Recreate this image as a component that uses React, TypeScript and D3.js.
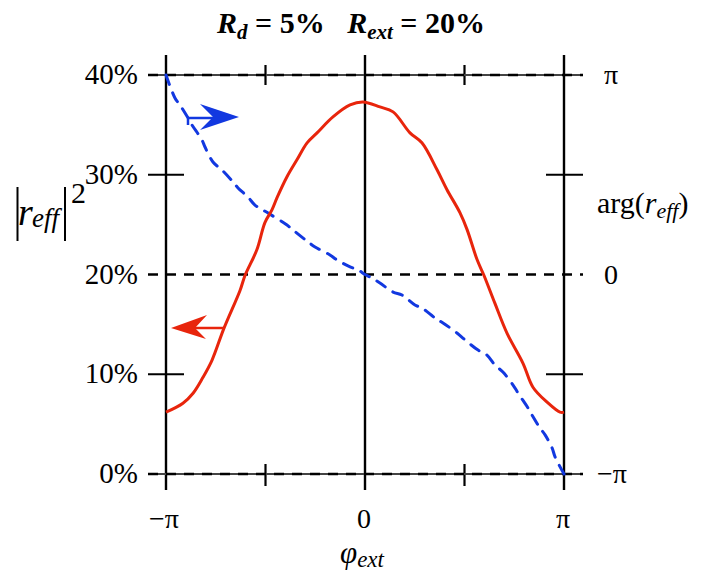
import React from "react";
import * as d3 from "d3";

// phase of the external reflector, in units of pi
const magPhi = [-1.0, -0.915, -0.864, -0.814, -0.769, -0.709, -0.628, -0.603, -0.543, -0.503, -0.467, -0.442, -0.392, -0.342, -0.291, -0.241, -0.161, -0.075, -0.01, 0.075, 0.141, 0.226, 0.286, 0.362, 0.412, 0.477, 0.513, 0.563, 0.598, 0.653, 0.714, 0.794, 0.844, 0.915, 0.98, 1.0];
// |r_eff|^2 in percent
const magVal = [6.2, 7.1, 8.1, 9.7, 11.4, 14.6, 18.4, 19.9, 22.5, 25.2, 26.5, 27.7, 29.8, 31.5, 33.2, 34.2, 35.8, 37.0, 37.3, 36.8, 36.3, 34.2, 33.2, 30.5, 28.5, 26.2, 24.5, 21.5, 19.9, 17.1, 14.1, 11.1, 8.7, 7.2, 6.2, 6.2];

// arg(r_eff) in units of pi
const argPhi = [-1.0, -0.955, -0.93, -0.889, -0.869, -0.819, -0.804, -0.764, -0.719, -0.663, -0.638, -0.588, -0.553, -0.487, -0.392, -0.362, -0.286, -0.251, -0.176, -0.141, -0.075, -0.035, 0, 0.035, 0.075, 0.141, 0.186, 0.251, 0.286, 0.352, 0.392, 0.462, 0.503, 0.568, 0.613, 0.653, 0.693, 0.744, 0.769, 0.819, 0.839, 0.879, 0.905, 0.94, 0.955, 1.0];
const argVal = [1.0, 0.885, 0.85, 0.784, 0.749, 0.674, 0.639, 0.564, 0.524, 0.464, 0.434, 0.388, 0.348, 0.308, 0.248, 0.223, 0.163, 0.138, 0.098, 0.073, 0.038, 0.023, 0, -0.018, -0.043, -0.088, -0.103, -0.153, -0.168, -0.218, -0.243, -0.293, -0.328, -0.379, -0.404, -0.454, -0.489, -0.554, -0.594, -0.669, -0.704, -0.769, -0.804, -0.869, -0.914, -1.0];

const xTicks = [-1, -0.5, 0, 0.5, 1];
const xTickLabels = ["\u2212\u03c0", "", "0", "", "\u03c0"];
const leftTicks = [0, 10, 20, 30, 40];
const rightTicks = [-1, -0.5, 0, 0.5, 1];
const rightTickLabels = ["\u2212\u03c0", "", "0", "", "\u03c0"];

const RED = "#e8250c";
const BLUE = "#1238e0";
const FONT = "'Liberation Serif', 'Times New Roman', serif";

export default function App() {
  const x = d3.scaleLinear().domain([-1, 1]).range([166, 564]);
  const yL = d3.scaleLinear().domain([0, 40]).range([474, 75]);
  const yR = d3.scaleLinear().domain([-1, 1]).range([474, 75]);

  const magLine = d3
    .line<number>()
    .curve(d3.curveCatmullRom.alpha(0.5))
    .x((_, i) => x(magPhi[i]))
    .y((d) => yL(d))(magVal);
  const argLine = d3
    .line<number>()
    .curve(d3.curveCatmullRom.alpha(0.5))
    .x((_, i) => x(argPhi[i]))
    .y((d) => yR(d))(argVal);

  return (
    <svg width={701} height={577} style={{ display: "block", position: "absolute", left: 0, top: 0 }} fontFamily={FONT}>
      <rect width={701} height={577} fill="#fff" />

      {/* vertical grid: frame edges and phi = 0, ticks at ±pi/2 */}
      {xTicks.map((t) =>
        Math.abs(t) === 0.5 ? (
          <g key={"xv" + t}>
            <line x1={x(t)} x2={x(t)} y1={65} y2={85} stroke="#000" strokeWidth={2.2} />
            <line x1={x(t)} x2={x(t)} y1={464} y2={486} stroke="#000" strokeWidth={2.2} />
          </g>
        ) : (
          <line key={"xv" + t} x1={x(t)} x2={x(t)} y1={55} y2={490} stroke="#000" strokeWidth={2.4} />
        )
      )}

      {/* horizontal grid and ticks */}
      {leftTicks.map((t) =>
        t === 10 || t === 30 ? (
          <g key={"yh" + t}>
            <line x1={148} x2={184} y1={yL(t)} y2={yL(t)} stroke="#000" strokeWidth={2.2} />
            <line x1={546} x2={583} y1={yL(t)} y2={yL(t)} stroke="#000" strokeWidth={2.2} />
          </g>
        ) : t === 20 ? (
          <line key={"yh" + t} x1={148} x2={583} y1={yL(t)} y2={yL(t)} stroke="#000" strokeWidth={2.6} strokeDasharray="10 8" />
        ) : (
          <g key={"yh" + t}>
            <line x1={148} x2={583} y1={yL(t)} y2={yL(t)} stroke="#444" strokeWidth={1.8} />
            <line x1={148} x2={583} y1={yL(t)} y2={yL(t)} stroke="#000" strokeWidth={2.6} strokeDasharray="10 8" />
          </g>
        )
      )}

      {/* left tick labels */}
      {leftTicks.map((t) => (
        <text key={"lt" + t} x={138} y={yL(t) + 9} fontSize={29} textAnchor="end">
          {t}%
        </text>
      ))}

      {/* right tick labels */}
      {rightTicks.map((t, i) =>
        rightTickLabels[i] ? (
          <text key={"rt" + t} x={t < 0 ? 597 : 604} y={yR(t) + 9} fontSize={28}>
            {rightTickLabels[i]}
          </text>
        ) : null
      )}

      {/* bottom tick labels */}
      {xTicks.map((t, i) =>
        xTickLabels[i] ? (
          <text key={"bt" + t} x={x(t) - (t < 0 ? 2 : 1)} y={528} fontSize={28} textAnchor="middle">
            {xTickLabels[i]}
          </text>
        ) : null
      )}

      {/* curves */}
      <path d={argLine ?? ""} fill="none" stroke={BLUE} strokeWidth={3} strokeDasharray="10 9" strokeLinecap="round" />
      <path d={magLine ?? ""} fill="none" stroke={RED} strokeWidth={3} strokeLinejoin="round" />

      {/* direction arrows */}
      <line x1={188} x2={215} y1={118} y2={118} stroke={BLUE} strokeWidth={2.5} />
      <path d="M188,118 L188,125" stroke={BLUE} strokeWidth={2.5} fill="none" />
      <path d="M239,117 L200,104 L213,117 L200,130 Z" fill={BLUE} />
      <line x1={195} x2={224} y1={328} y2={328} stroke={RED} strokeWidth={2.5} />
      <path d="M171,328 L207,315 L195,328 L206,339 Z" fill={RED} />

      {/* title */}
      <text x={351} y={33} fontSize={30} fontWeight="bold" textAnchor="middle" style={{ whiteSpace: "pre" }}>
        <tspan fontStyle="italic">R</tspan>
        <tspan fontStyle="italic" fontSize={21} dy={6}>d</tspan>
        <tspan dy={-6}>{" = 5%   "}</tspan>
        <tspan fontStyle="italic">R</tspan>
        <tspan fontStyle="italic" fontSize={21} dy={6}>ext</tspan>
        <tspan dy={-6}>{" = 20%"}</tspan>
      </text>

      {/* left axis label |r_eff|^2 */}
      <line x1={17.5} x2={17.5} y1={187} y2={241} stroke="#000" strokeWidth={2} />
      <line x1={65} x2={65} y1={187} y2={241} stroke="#000" strokeWidth={2} />
      <text x={18} y={225} fontSize={38} fontStyle="italic">r</text>
      <text x={32} y={227} fontSize={27} fontStyle="italic">eff</text>
      <text x={71} y={203} fontSize={30}>2</text>

      {/* right axis label arg(r_eff) */}
      <text x={597} y={213} fontSize={30}>
        arg(<tspan fontStyle="italic">r</tspan>
        <tspan fontStyle="italic" fontSize={22} dy={5}>eff</tspan>
        <tspan dy={-5}>)</tspan>
      </text>

      {/* bottom axis label phi_ext */}
      <text x={340} y={563} fontSize={31} fontStyle="italic">
        {"\u03c6"}
        <tspan fontSize={23} dy={4}>ext</tspan>
      </text>
    </svg>
  );
}
